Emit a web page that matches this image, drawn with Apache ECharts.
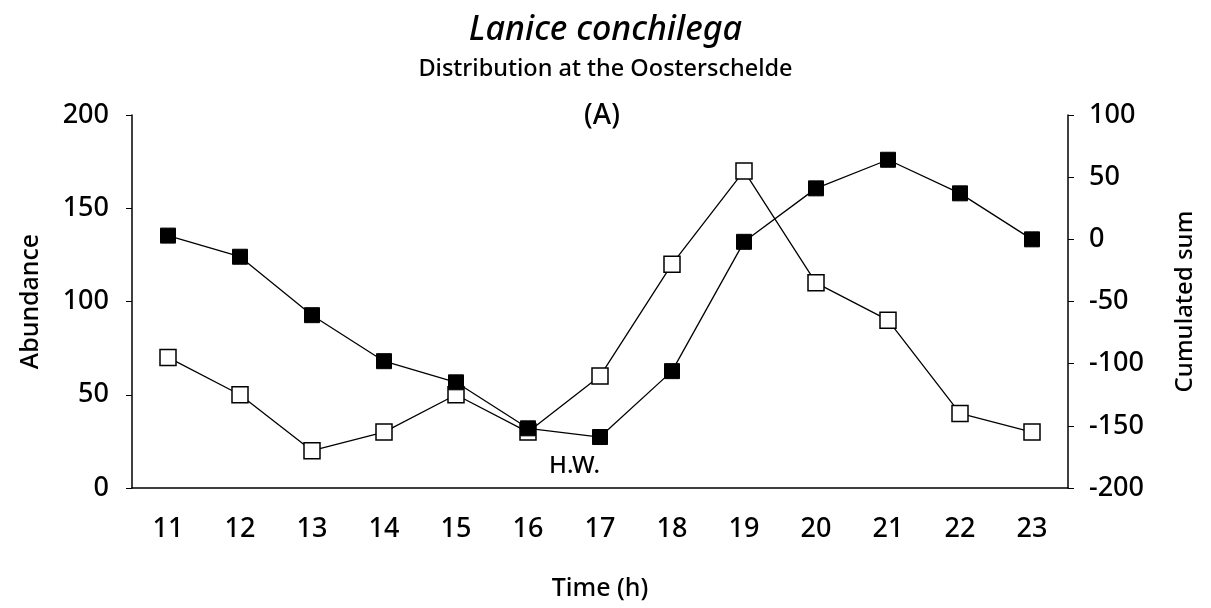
<!DOCTYPE html>
<html>
<head>
	<meta charset="UTF-8">
	<title>Lanice conchilega</title>
	<style type="text/css">
		html, body{
			margin: 0;
			padding: 0;
			background: #fff;
		}
		#echarts{
			width: 1211px;
			height: 608px;
		}
	</style>
</head>
<body>
	<div id="echarts"></div>

	<script type="text/javascript" src="https://cdn.jsdelivr.net/npm/echarts@6/dist/echarts.min.js"></script>
	<script type="text/javascript">
		// 时间（小时）
		var hours = ['11','12','13','14','15','16','17','18','19','20','21','22','23']
		// 丰度（左轴，空心方块）
		var abundance = [70, 50, 20, 30, 50, 30, 60, 120, 170, 110, 90, 40, 30]
		// 累计和（右轴，实心方块）
		var cumSum = [3, -14, -61, -98, -115, -152, -159, -106, -2, 41, 64, 37, 0]

		var chart = echarts.init(document.getElementById('echarts'))
		var font = 'Noto Sans'

		var option = {
			animation: false,
			textStyle: {fontFamily: font, color: '#000'},
			title: [
				{
					text: 'Lanice conchilega',
					left: 'center',
					top: 8,
					textStyle: {fontSize: 34, fontStyle: 'italic', fontWeight: 500, color: '#000', fontFamily: font}
				},
				{
					text: 'Distribution at the Oosterschelde',
					left: 'center',
					top: 52,
					textStyle: {fontSize: 23.5, fontWeight: 500, color: '#000', fontFamily: font}
				},
				{
					text: '(A)',
					left: 597,
					top: 97,
					textAlign: 'center',
					textStyle: {fontSize: 28, fontWeight: 500, color: '#000', fontFamily: font}
				}
			],
			grid: {
				left: 132,
				right: 143,
				top: 115,
				bottom: 120
			},
			xAxis: {
				type: 'category',
				data: hours,
				boundaryGap: true,
				name: 'Time (h)',
				nameLocation: 'middle',
				nameGap: 88,
				nameTextStyle: {fontSize: 25, fontWeight: 500, color: '#000'},
				axisLine: {lineStyle: {color: '#000', width: 1.5}},
				axisTick: {length: 6, lineStyle: {color: '#000'}},
				axisLabel: {fontSize: 27, fontWeight: 500, color: '#000', margin: 28}
			},
			yAxis: [
				{
					type: 'value',
					min: 0,
					max: 200,
					interval: 50,
					name: 'Abundance',
					nameLocation: 'middle',
					nameGap: 89,
					nameTextStyle: {fontSize: 25, fontWeight: 500, color: '#000'},
					axisLine: {show: true, lineStyle: {color: '#000', width: 1.5}},
					axisTick: {show: true, length: 6, lineStyle: {color: '#000'}},
					axisLabel: {fontSize: 27, fontWeight: 500, color: '#000', margin: 23},
					splitLine: {show: false}
				},
				{
					type: 'value',
					min: -200,
					max: 100,
					interval: 50,
					name: 'Cumulated sum',
					nameLocation: 'middle',
					nameGap: 105,
					nameTextStyle: {fontSize: 24, fontWeight: 500, color: '#000'},
					axisLine: {show: true, lineStyle: {color: '#000', width: 1.5}},
					axisTick: {show: true, length: 6, lineStyle: {color: '#000'}},
					axisLabel: {fontSize: 27, fontWeight: 500, color: '#000', margin: 21},
					splitLine: {show: false}
				}
			],
			graphic: [
				{
					type: 'text',
					left: 549,
					top: 454,
					style: {text: 'H.W.', fontSize: 24, fontWeight: 500, fill: '#000', fontFamily: font}
				}
			],
			series: [
				{
					name: 'Abundance',
					type: 'line',
					yAxisIndex: 0,
					data: abundance,
					symbol: 'rect',
					symbolSize: 16,
					lineStyle: {color: '#000', width: 1.3},
					itemStyle: {color: '#fff', borderColor: '#000', borderWidth: 1.5}
				},
				{
					name: 'Cumulated sum',
					type: 'line',
					yAxisIndex: 1,
					data: cumSum,
					symbol: 'rect',
					symbolSize: 15,
					lineStyle: {color: '#000', width: 1.3},
					itemStyle: {color: '#000', borderColor: '#000', borderWidth: 1}
				}
			]
		};

		chart.setOption(option);
	</script>
</body>
</html>
